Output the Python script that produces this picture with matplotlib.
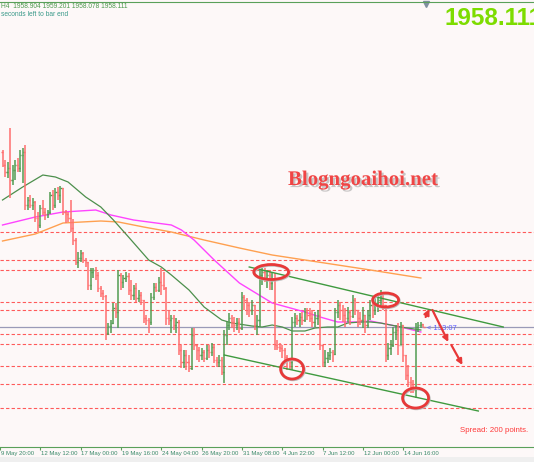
import matplotlib.pyplot as plt
from matplotlib.patches import Ellipse, Rectangle
import matplotlib.transforms as mtransforms
import matplotlib.patheffects as pe

# XAUUSD H4 bars (price), open of each bar = previous close
first_open = 2045.5
high = [2046.5, 2041.5, 2040.5, 2057.5, 2039, 2041.5, 2042.5, 2046.5, 2047.5, 2049,
        2023, 2024, 2022.5, 2021, 2015.5, 2019, 2021.5, 2017.5, 2016.5, 2025.5,
        2026.5, 2027.5, 2028, 2028.5, 2027.5, 2016.5, 2015.5, 2021.5, 2012, 2002.5,
        1995.5, 1996.5, 1995.5, 1992.5, 1990.5, 1987.5, 1987.5, 1988, 1985.5, 1978.5,
        1976.5, 1974, 1960, 1961.5, 1970, 1970, 1986.5, 1985, 1984, 1985.5,
        1985, 1981.5, 1979, 1980, 1976.5, 1975.5, 1971.5, 1964, 1962.5, 1975,
        1980, 1980, 1983, 1987.5, 1985.5, 1978, 1966.5, 1964, 1964, 1962.5,
        1961.5, 1949, 1946.5, 1946.5, 1944, 1957.5, 1957.5, 1949, 1948, 1947.5,
        1946.5, 1949, 1949, 1950, 1949, 1943, 1944, 1943, 1956.5, 1960.5,
        1965, 1964, 1963, 1962.5, 1962.5, 1975.5, 1974, 1972.5, 1970.5, 1971.5,
        1969, 1964, 1986.5, 1987.5, 1987.5, 1986.5, 1986.5, 1985.5, 1985, 1951.5,
        1950, 1949, 1947.5, 1944, 1942.5, 1963, 1965, 1964, 1965, 1965.5,
        1967.5, 1967.5, 1967.5, 1966.5, 1965.5, 1966.5, 1971.5, 1949, 1946.5, 1945.5,
        1947.5, 1946.5, 1967.5, 1971.5, 1970.5, 1969, 1967.5, 1968, 1966.5, 1974,
        1972.5, 1966.5, 1965.5, 1968, 1964, 1966.5, 1971.5, 1971.5, 1972.5, 1974,
        1976.5, 1975.5, 1969, 1950, 1951.5, 1958, 1959, 1960, 1960.5, 1959,
        1944, 1939, 1933, 1931.5, 1960, 1960.5, 1960.5, 1959.6]
low = [2038, 2033, 2032.5, 2022.5, 2029, 2031.5, 2035.5, 2035.5, 2030, 2016.5,
       2016.5, 2017.5, 2016.5, 2010.5, 2005.5, 2007.5, 2014, 2011.5, 2012.5, 2014.5,
       2016.5, 2017.5, 2021.5, 2020, 2014, 2010, 2010.5, 2005.5, 1999, 1989,
       1987.5, 1990.5, 1990, 1988, 1976.5, 1976.5, 1982.5, 1981.5, 1975.5, 1973,
       1971.5, 1951.5, 1954, 1955, 1959.5, 1962.5, 1957.5, 1976.5, 1977.5, 1980.5,
       1974, 1971.5, 1971.5, 1970.5, 1970.5, 1969, 1960, 1959, 1955, 1959,
       1971.5, 1975.5, 1975.5, 1974, 1976.5, 1959, 1959, 1955, 1956.5, 1955,
       1944, 1937.5, 1937.5, 1936.5, 1935.5, 1936.5, 1946.5, 1941.5, 1940.5, 1941.5,
       1940.5, 1941.5, 1942.5, 1943.5, 1940, 1938, 1938, 1934, 1930, 1949,
       1956.5, 1957.5, 1955.5, 1956.5, 1955, 1956.5, 1966.5, 1964, 1963, 1964,
       1956.5, 1954, 1958, 1979, 1980.5, 1977.5, 1976.5, 1976.5, 1946.5, 1946.5,
       1945.5, 1942.5, 1941.5, 1936.5, 1936.5, 1936.5, 1958, 1959, 1958, 1959,
       1960.5, 1961.5, 1960.5, 1958, 1958, 1959, 1946.5, 1938, 1938, 1940,
       1941.5, 1940.5, 1944, 1962.5, 1961.5, 1960.5, 1958, 1960.5, 1959, 1962.5,
       1964, 1958, 1959, 1957.5, 1955, 1957.5, 1961.5, 1962.5, 1964, 1965.5,
       1969, 1966.5, 1940.5, 1941.5, 1944, 1948, 1951.5, 1944, 1949, 1940.5,
       1931.5, 1928, 1925, 1925, 1922.5, 1955.5, 1957.5, 1958.1]
close = [2039, 2035.5, 2037.5, 2031.5, 2036.5, 2039, 2037.5, 2044, 2045.5, 2019,
         2021.5, 2019, 2020.5, 2012.5, 2009, 2017.5, 2015.5, 2014.5, 2015.5, 2024,
         2019, 2025.5, 2024, 2027.5, 2015.5, 2014.5, 2012.5, 2007.5, 2001.5, 1990.5,
         1992.5, 1995, 1991.5, 1990.5, 1979, 1985.5, 1986.5, 1984, 1977.5, 1975,
         1973.5, 1955, 1958.5, 1960, 1967.5, 1965.5, 1984, 1980.5, 1982.5, 1983.5,
         1976.5, 1974, 1977.5, 1972.5, 1974, 1971.5, 1962.5, 1961.5, 1960.5, 1973,
         1978, 1976.5, 1980.5, 1979, 1977.5, 1962.5, 1961.5, 1962.5, 1959, 1960.5,
         1946.5, 1940.5, 1944, 1940.5, 1937.5, 1954, 1949, 1946.5, 1944, 1945.5,
         1942.5, 1946.5, 1945.5, 1948, 1941.5, 1940.5, 1941.5, 1935.5, 1954, 1959,
         1962.5, 1960.5, 1959, 1960.5, 1957.5, 1973, 1971.5, 1969, 1966.5, 1969,
         1959, 1961.5, 1984, 1985.5, 1982.5, 1984, 1980, 1981.5, 1949, 1948,
         1947.5, 1946.5, 1943, 1941.5, 1940.5, 1960.5, 1962.5, 1961.5, 1963, 1961.5,
         1965.5, 1964, 1962.5, 1960.5, 1962.5, 1964, 1949, 1940.5, 1942.5, 1944,
         1945.5, 1944.5, 1965.5, 1969, 1966.5, 1964, 1962.5, 1965.5, 1963.5, 1971.5,
         1966.5, 1962.5, 1961.5, 1964, 1959, 1964, 1969, 1966.5, 1970, 1971.5,
         1972.5, 1969, 1944, 1947.5, 1949, 1955.5, 1956.5, 1949, 1959, 1944,
         1934, 1930.5, 1927.5, 1926.5, 1958, 1959, 1959.5, 1958.1]

# moving averages (bar index, price)
ma_green_x = [1, 9, 17, 22, 27, 34, 40, 45, 51, 59, 64, 68, 75, 81, 88, 92, 100, 104,
              108, 112, 116, 121, 125, 130, 134, 138, 143, 147, 151, 159, 167]
ma_green = [2021.5, 2028, 2034, 2033, 2030.5, 2023, 2018, 2011.5, 2003, 1991.5, 1988,
            1984, 1976.5, 1968, 1961.5, 1960, 1958.5, 1958, 1959, 1958, 1956, 1956,
            1957.5, 1958, 1958, 1960, 1960.5, 1960.5, 1960, 1958, 1956.5]
ma_pink_x = [1, 14, 25, 38, 44, 53, 68, 72, 77, 85, 95, 108, 121, 127, 134, 142, 147,
             151, 159, 167]
ma_pink = [2009, 2013, 2015.5, 2016.5, 2014, 2011.5, 2009, 2006.5, 2001.5, 1991.5, 1980,
           1970, 1965.5, 1963, 1960.5, 1960.5, 1961, 1960, 1958, 1955.5]
ma_orange_x = [1, 14, 25, 40, 47, 57, 68, 81, 95, 108, 121, 134, 147, 167]
ma_orange = [2001, 2004.5, 2010, 2011, 2010.5, 2008, 2005.5, 2001.5, 1997.5, 1994, 1991.5,
             1989, 1986.5, 1982.5]

levels = [2005.5, 1991.5, 1986.5, 1970.5, 1966.5, 1954.5, 1949.5, 1938.5, 1929.5, 1917.5]
bid = 1958.1

tick_bars = [0, 16, 32, 48, 64, 80, 96, 112, 128, 144, 160]
tick_labels = ['9 May 20:00', '12 May 12:00', '17 May 00:00', '19 May 16:00',
               '24 May 04:00', '26 May 20:00', '31 May 08:00', '4 Jun 22:00',
               '7 Jun 12:00', '12 Jun 00:00', '14 Jun 16:00']

# drawn objects: channel, circles, arrows
chan_upper = [(98.9, 1988), (199.7, 1958)]
chan_lower = [(89, 1944), (189.8, 1916)]
circles = [(107.6, 1985.5, 13.8, 7.5), (115.9, 1937, 9.1, 10),
           (153, 1971.5, 10.3, 7), (164.9, 1922.5, 10.3, 10)]
arrows = [((168.9, 1963), (170.4, 1967)), ((171.6, 1966.5), (177.9, 1950.5)),
          ((179.1, 1949), (183.5, 1939))]

up_col = '#529c52'
dn_col = '#ff6e6e'
bg = '#fdf8f8'

fig = plt.figure(figsize=(5.34, 4.62), dpi=100)
fig.patch.set_facecolor(bg)
fig.patches.append(Rectangle((0, 0), 1, 5 / 462, transform=fig.transFigure,
                             fc='#efefef', ec='none'))
ax = fig.add_axes([0, 15 / 462, 1, 445 / 462])
ax.set_facecolor(bg)
ax.set_xlim(0.87, 211.9)
ax.set_ylim(1898.0, 2120.5)

for y in levels:
    ax.axhline(y, color='#ff5a5a', lw=0.8, dashes=(3, 2), zorder=1)
ax.axhline(bid, color='#9a9ab8', lw=0.9, zorder=1)

# OHLC bars
opens = [first_open] + close[:-1]
for k in range(len(close)):
    i = k + 1
    o, h, l, c = opens[k], high[k], low[k], close[k]
    col = up_col if c >= o else dn_col
    ax.vlines(i, l, h, color=col, lw=1.1, zorder=3)
    ax.hlines(o, i - 0.45, i, color=col, lw=1.0, zorder=3)
    ax.hlines(c, i, i + 0.45, color=col, lw=1.0, zorder=3)

ax.plot(ma_orange_x, ma_orange, color='#ffa050', lw=1.0, zorder=2)
ax.plot(ma_pink_x, ma_pink, color='#ff44ff', lw=1.0, zorder=2)
ax.plot(ma_green_x, ma_green, color='#4c8f4c', lw=0.9, zorder=2)

for (x0, y0), (x1, y1) in [chan_upper, chan_lower]:
    ax.plot([x0, x1], [y0, y1], color='#3f9a3f', lw=1.0, zorder=4)

for cx, cy, w, h in circles:
    ax.add_patch(Ellipse((cx + 0.3, cy - 0.4), w, h, fill=False, ec='#bbbbbb', lw=2.0, zorder=5))
    ax.add_patch(Ellipse((cx, cy), w, h, fill=False, ec='#e83838', lw=2.0, zorder=6))

for (x0, y0), (x1, y1) in arrows:
    ax.annotate('', xy=(x1, y1), xytext=(x0, y0),
                arrowprops=dict(arrowstyle='-|>', color='#e83838', lw=1.6,
                                mutation_scale=8, shrinkA=0, shrinkB=0), zorder=6)

# axes look
for s in ['left', 'right']:
    ax.spines[s].set_visible(False)
ax.spines['bottom'].set_color('#5aa05a')
ax.spines['top'].set_color('#5aa05a')
ax.set_yticks([])
ax.set_xticks(tick_bars)
ax.set_xticklabels([])
ax.tick_params(axis='x', direction='out', length=2.5, color='#5aa05a')

trans = mtransforms.blended_transform_factory(ax.transData, ax.transAxes)
for b, lab in zip(tick_bars, tick_labels):
    ax.text(b + 0.3, -6.5 / 445, lab, transform=trans, fontsize=4.3, color='#3a8a6a',
            family='Liberation Sans', ha='left', va='center', clip_on=False)

# texts
fig.text(1 / 534, 1 - 6 / 462, 'H4  1958.904 1959.201 1958.078 1958.111', fontsize=4.8,
         color='#4f9a4f', family='Liberation Sans', va='center')
fig.text(1 / 534, 1 - 15 / 462, 'seconds left to bar end', fontsize=4.8,
         color='#3a9a8a', family='Liberation Sans', va='center')
fig.text(445 / 534, 1 - 25 / 462, '1958.111', fontsize=17.5, color='#7ddc00',
         weight='bold', family='Liberation Sans', va='baseline')
blog = fig.text(288 / 534, 1 - 185 / 462, 'Blogngoaihoi.net', fontsize=15, color='#f04545',
                weight='bold', family='Liberation Serif', va='baseline')
blog.set_path_effects([pe.withSimplePatchShadow(offset=(1.5, -1.5), shadow_rgbFace='#888888',
                                                alpha=0.45)])
fig.text(460 / 534, 1 - 430 / 462, 'Spread: 200 points.', fontsize=5.7, color='#ff3a3a',
         family='Liberation Sans', va='center')
ax.text(168.9 + 0.5, bid - 0.8, '< 133:07', fontsize=5.5, color='#5a5aff',
        family='Liberation Sans', va='center', zorder=5)
ax.plot([169.0], [1.0 - 1.5 / 445], marker='v', ms=4, color='#8090a0',
        transform=trans, clip_on=False)

fig.savefig('out.png', dpi=100, facecolor=fig.get_facecolor())
